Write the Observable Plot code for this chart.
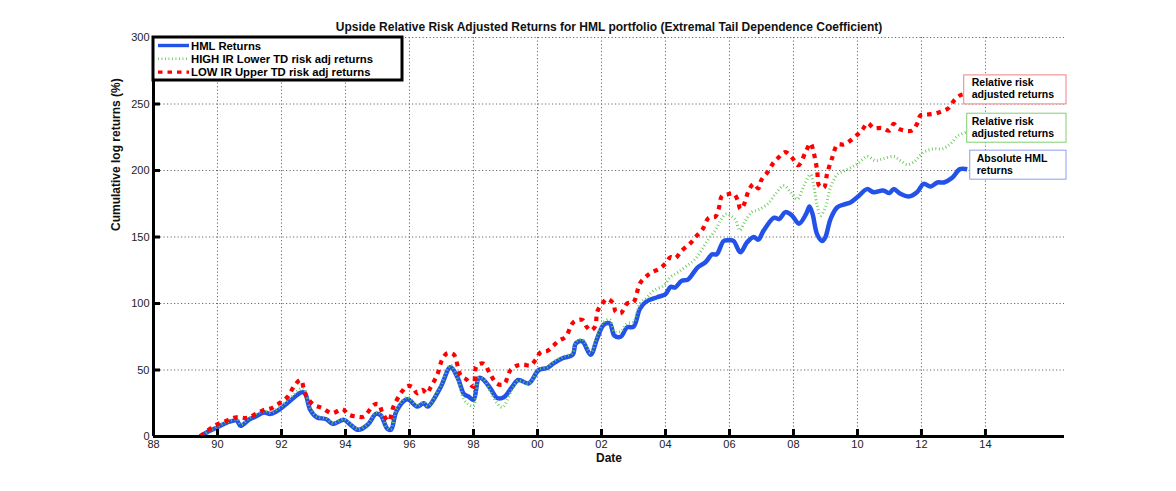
<!DOCTYPE html>
<html>
<head>
<meta charset="utf-8">
<script src="https://cdn.jsdelivr.net/npm/d3@7"></script>
<script src="https://cdn.jsdelivr.net/npm/@observablehq/plot@0.6"></script>
<style>
  html, body { margin: 0; padding: 0; background: #fff; }
  #chart svg { display: block; }
</style>
</head>
<body>
<div id="chart"></div>
<script>
// ---------------- data ----------------
const titleText = "Upside Relative Risk Adjusted Returns for HML portfolio (Extremal Tail Dependence Coefficient)";
const xLabel = "Date";
const yLabel = "Cumulative log returns (%)";
const seriesNames = ["HML Returns", "HIGH IR Lower TD risk adj returns", "LOW IR Upper TD risk adj returns"];
const annotationLines = [
  ["Relative risk", "adjusted returns"],
  ["Relative risk", "adjusted returns"],
  ["Absolute HML", "returns"]
];
const xTicks = [1988, 1990, 1992, 1994, 1996, 1998, 2000, 2002, 2004, 2006, 2008, 2010, 2012, 2014];
const yTicks = [0, 50, 100, 150, 200, 250, 300];

const hmlYears = [1989.45,1989.7,1990.0,1990.3,1990.6,1990.72,1991.0,1991.2,1991.45,1991.66,1991.97,1992.28,1992.6,1992.72,1992.9,1993.1,1993.4,1993.6,1993.95,1994.15,1994.4,1994.7,1994.95,1995.1,1995.3,1995.42,1995.6,1995.93,1996.24,1996.45,1996.57,1996.97,1997.28,1997.5,1997.7,1997.85,1998.0,1998.17,1998.3,1998.53,1998.74,1998.95,1999.2,1999.4,1999.73,2000.04,2000.3,2000.5,2000.8,2001.1,2001.2,2001.4,2001.66,2001.87,2002.07,2002.26,2002.4,2002.6,2002.8,2003.0,2003.2,2003.4,2003.74,2004.0,2004.16,2004.3,2004.5,2004.7,2005.0,2005.25,2005.46,2005.6,2005.82,2006.0,2006.13,2006.34,2006.55,2006.76,2006.9,2007.07,2007.4,2007.55,2007.75,2007.96,2008.17,2008.4,2008.5,2008.6,2008.74,2008.9,2009.0,2009.16,2009.37,2009.57,2009.78,2010.0,2010.3,2010.5,2010.8,2011.0,2011.13,2011.34,2011.6,2011.86,2012.07,2012.28,2012.5,2012.7,2012.96,2013.2,2013.43];
const hmlValues = [0,3.5,7,10.5,12,8,13,15,18,17,21,27,33,33,20,14.5,13,9.5,12.5,9,5,9,17,16,6,5,19.5,28,22.5,25,22.5,37,52,44.5,32,30,27.5,44,43,36,29,29.5,37,42.5,40,50,51.5,55,59,61.5,70,71.5,61.5,74,84,85,76,75,82,82.5,96,101.5,104.7,107,112.5,112,117,118,127,131,137,137,147,147.5,147,138.5,146,150,148,155,164.5,163.5,168.7,166,160,167.5,173,167,152,147,150,163.7,172.4,174.4,176,180,186,183.7,185,183,186,182.5,180.5,183.7,190,188,191,191,194.5,201,201];

const highYears = [1989.45,1990.0,1990.3,1990.6,1990.72,1991.0,1991.45,1991.66,1991.97,1992.28,1992.6,1992.72,1992.9,1993.1,1993.4,1993.6,1993.95,1994.15,1994.4,1994.7,1994.95,1995.1,1995.3,1995.42,1995.6,1995.93,1996.24,1996.45,1996.57,1996.97,1997.28,1997.5,1997.7,1997.85,1998.0,1998.17,1998.3,1998.53,1998.74,1998.9,1999.2,1999.4,1999.73,2000.04,2000.3,2000.5,2000.8,2001.1,2001.2,2001.4,2001.66,2001.87,2002.07,2002.26,2002.4,2002.6,2002.8,2003.0,2003.2,2003.43,2003.63,2003.95,2004.16,2004.4,2004.68,2004.94,2005.15,2005.35,2005.56,2005.72,2005.9,2006.1,2006.2,2006.32,2006.5,2006.7,2006.9,2007.2,2007.44,2007.7,2007.9,2008.12,2008.33,2008.53,2008.64,2008.74,2008.84,2009.0,2009.16,2009.37,2009.57,2009.78,2010.0,2010.3,2010.56,2010.8,2011.13,2011.34,2011.55,2011.76,2012.07,2012.38,2012.65,2012.9,2013.15,2013.4];
const highValues = [0,7.5,11,13,9,14,19,18,22.5,29,36,35,21,15,13.5,10,13,9.5,5.5,9.5,18,17,6.5,5.5,20.5,29.5,23,26,23,38,53.5,44,28,24,23,44,43.5,34,25,22,35,42,40,50.5,52,56,60,63,71,73,63,76,86,88,79,79,85,86,99.7,104.7,109.8,113.5,120,123.5,128.6,133.6,141,148.6,155,162.4,167.4,165,162.4,155,162.4,168.7,170.4,175,182.5,188.5,184,178.5,188.7,197,187.5,173.7,166,172.4,187.5,197,199.5,202,205,210.5,207.5,208.8,210.5,207.5,204.5,206.3,213.8,216.3,216.3,220,226.3,228.8];

const lowYears = [1989.47,1989.9,1990.3,1990.6,1990.93,1991.2,1991.45,1991.66,1991.9,1992.18,1992.4,1992.6,1992.75,1993.0,1993.27,1993.58,1993.9,1994.1,1994.37,1994.57,1994.9,1995.05,1995.15,1995.35,1995.5,1995.77,1995.93,1996.1,1996.24,1996.4,1996.55,1996.66,1996.87,1997.02,1997.18,1997.38,1997.6,1997.8,1998.0,1998.1,1998.32,1998.53,1998.74,1998.95,1999.16,1999.37,1999.57,1999.78,1999.94,2000.1,2000.32,2000.5,2000.67,2000.88,2001.13,2001.4,2001.53,2001.66,2001.8,2001.87,2002.02,2002.18,2002.37,2002.44,2002.6,2002.8,2003.0,2003.2,2003.43,2003.58,2003.8,2004.0,2004.16,2004.3,2004.52,2004.78,2004.94,2005.15,2005.35,2005.56,2005.66,2005.77,2005.93,2006.13,2006.26,2006.34,2006.47,2006.6,2006.76,2006.9,2007.0,2007.2,2007.38,2007.54,2007.75,2007.96,2008.15,2008.38,2008.53,2008.64,2008.74,2008.8,2008.95,2009.05,2009.2,2009.38,2009.57,2009.78,2010.0,2010.15,2010.32,2010.5,2010.77,2011.0,2011.13,2011.25,2011.45,2011.7,2011.86,2011.97,2012.12,2012.38,2012.65,2012.85,2013.0,2013.2,2013.4];
const lowValues = [0,8,12,14.5,14,17,20,21,24.5,29.5,38,42.5,31.5,24,21.5,17.5,20.5,16.5,15,15,24,24,18,11.5,22.5,34,38,37,32.5,35,32.5,37,46.6,57.7,62.6,61.7,46,42.5,37.3,53.2,54.8,46.6,39.6,39.3,50,53.4,54,53.4,57.6,63.4,64.6,68.4,72,75,86,87.7,82.7,79.7,82.7,94,99.7,103.5,100,94,92.7,100,101,115,121,123.5,126,130,134.8,134,140,145.3,150,155.4,164.4,165.4,171,181,182,182.5,177.4,171,175.4,185,190,186.6,193,199,206,210,213.8,209.5,204,213.8,220.5,212.6,200,188.7,187,197.5,208.8,219.5,219.5,222.5,227,230.6,235.6,232,232,230,235,232,230,230,235,241.4,242,242.6,244.6,247,252,256.4,257.6];

// ---------------- layout / styles ----------------
const W = 1176, H = 491;
const mL = 153, mR = 112, mT = 37, mB = 55;
const plotW = W - mL - mR, plotH = H - mT - mB;
const font = "'Liberation Sans', Arial, Helvetica, sans-serif";

const styles = [
  {stroke: "#2352e8", strokeWidth: 4.5, dash: null},
  {stroke: "#66cc55", strokeWidth: 3, dash: "0.9,2.6"},
  {stroke: "#ff0000", strokeWidth: 4.2, dash: "4.5,5"}
];
const annotColors = ["#f08080", "#7fcf6f", "#8c9cf2"];

const toRows = (xs, ys) => xs.map((x, i) => ({x, y: ys[i]}));
const hml = toRows(hmlYears, hmlValues);
const high = toRows(highYears, highValues);
const low = toRows(lowYears, lowValues);

const fmtYear = d => String(d % 100).padStart(2, "0");
const gridX = xTicks.slice(1);
const gridY = yTicks.slice(1);

const lineOpts = (s) => ({x: "x", y: "y", stroke: s.stroke, strokeWidth: s.strokeWidth, strokeDasharray: s.dash, strokeLinecap: "butt", curve: "catmull-rom"});

const chart = Plot.plot({
  width: W, height: H,
  marginLeft: mL, marginRight: mR, marginTop: mT, marginBottom: mB,
  style: {fontFamily: font, fontSize: "11px", color: "#222", background: "#fff", overflow: "visible"},
  x: {domain: [1988, 2016.47]},
  y: {domain: [0, 300]},
  marks: [
    Plot.ruleY(gridY, {stroke: "#6a6a6a", strokeWidth: 1, strokeDasharray: "1.2,2.3"}),
    Plot.ruleX(gridX, {stroke: "#6a6a6a", strokeWidth: 1, strokeDasharray: "1.2,2.3"}),
    Plot.line(hml, lineOpts(styles[0])),
    Plot.line(high, lineOpts(styles[1])),
    Plot.line(low, lineOpts(styles[2])),
    Plot.ruleX([xTicks[0]], {stroke: "#000", strokeWidth: 3}),
    Plot.ruleY([yTicks[0]], {stroke: "#000", strokeWidth: 3}),
    Plot.ruleX(xTicks, {stroke: "#000", strokeWidth: 3, insetTop: plotH - 7}),
    Plot.ruleY(yTicks, {stroke: "#000", strokeWidth: 3, insetRight: plotW - 7}),
    Plot.axisX({ticks: xTicks, tickSize: 0, tickPadding: 4, tickFormat: fmtYear, label: null, fontSize: 11}),
    Plot.axisY({ticks: yTicks, tickSize: 0, tickPadding: 4, label: null, fontSize: 11}),
    Plot.text([titleText], {frameAnchor: "top", dy: -15, fontWeight: "bold", fontSize: 12, fill: "#111"}),
    Plot.text([xLabel], {frameAnchor: "bottom", dy: 25, fontWeight: "bold", fontSize: 12, fill: "#111"}),
    Plot.text([yLabel], {frameAnchor: "left", dx: -37, dy: -6, rotate: -90, fontWeight: "bold", fontSize: 12, fill: "#111"})
  ]
});

document.getElementById("chart").appendChild(chart);

// ---------------- legend ----------------
const svg = d3.select(chart);
const xs = chart.scale("x"), ys = chart.scale("y");
const lg = svg.append("g").attr("font-family", font).attr("font-weight", "bold").attr("font-size", 11.3)
  .attr("text-anchor", "start");
const lgX = xs.apply(1988), lgY = ys.apply(300);
lg.append("rect").attr("x", lgX).attr("y", lgY).attr("width", 249).attr("height", 43)
  .attr("fill", "#fff").attr("stroke", "#000").attr("stroke-width", 3);
seriesNames.forEach((name, i) => {
  const cy = lgY + 8.5 + i * 13.3;
  const s = styles[i];
  lg.append("line").attr("x1", lgX + 5).attr("x2", lgX + 36).attr("y1", cy).attr("y2", cy)
    .attr("stroke", s.stroke).attr("stroke-width", i === 1 ? 2.6 : 3.4).attr("stroke-dasharray", s.dash || null);
  lg.append("text").attr("x", lgX + 38).attr("y", cy).attr("dy", "0.36em").attr("fill", "#000")
    .attr("text-anchor", "start").text(name);
});

// ---------------- annotations ----------------
const ends = [lowValues[lowValues.length - 1], highValues[highValues.length - 1], hmlValues[hmlValues.length - 1]];
const endX = xs.apply(hmlYears[hmlYears.length - 1]);
const boxLeft = [endX - 3, endX, endX + 3];
const boxPad = [8, 5, 7];
const ag = svg.append("g").attr("font-family", font).attr("font-weight", "bold").attr("font-size", 10.5)
  .attr("text-anchor", "start");
ends.forEach((v, i) => {
  const cy = ys.apply(v) - 4;
  const x0 = boxLeft[i], x1 = xs.apply(2016.47) + 2;
  const top = cy - 14.5;
  ag.append("rect").attr("x", x0).attr("y", top).attr("width", x1 - x0).attr("height", 29)
    .attr("fill", "#fff").attr("stroke", annotColors[i]).attr("stroke-width", 1);
  annotationLines[i].forEach((t, j) => {
    ag.append("text").attr("x", x0 + boxPad[i]).attr("y", top + 11.5 + j * 12).attr("fill", "#000")
      .attr("text-anchor", "start").text(t);
  });
});
</script>
</body>
</html>
